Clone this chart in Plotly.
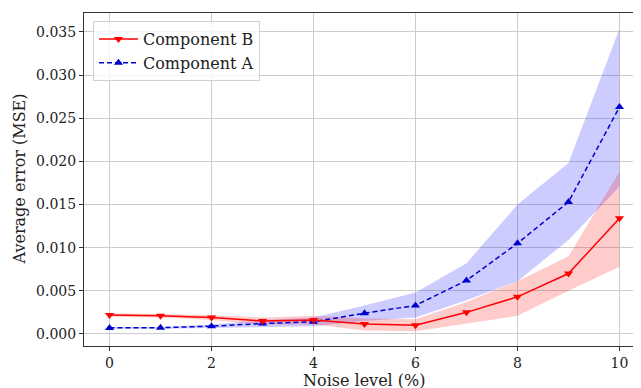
import plotly.graph_objects as go

noise = [0, 1, 2, 3, 4, 5, 6, 7, 8, 9, 10]
comp_b = [0.0022, 0.0021, 0.0019, 0.0015, 0.0016, 0.00116, 0.0010, 0.0025, 0.0043, 0.0070, 0.0134]
comp_b_lo = [0.0020, 0.0019, 0.0016, 0.0011, 0.0011, 0.0004, 0.0003, 0.0012, 0.0021, 0.0050, 0.0078]
comp_b_hi = [0.0024, 0.0023, 0.0022, 0.0019, 0.0021, 0.0018, 0.0017, 0.0037, 0.0061, 0.0090, 0.0188]
comp_a = [0.0007, 0.00072, 0.0009, 0.0012, 0.0014, 0.0024, 0.0033, 0.0062, 0.0105, 0.0153, 0.0263]
comp_a_lo = [0.0006, 0.0006, 0.0007, 0.0008, 0.0009, 0.0015, 0.0019, 0.0039, 0.0061, 0.0109, 0.0171]
comp_a_hi = [0.0008, 0.0008, 0.0011, 0.0016, 0.0019, 0.0033, 0.0048, 0.0082, 0.0150, 0.0198, 0.0354]
yticks = [0.0, 0.005, 0.010, 0.015, 0.020, 0.025, 0.030, 0.035]
xticks = [0, 2, 4, 6, 8, 10]

FONT = "'DejaVu Serif', serif"
fig = go.Figure()

def band(lo, hi, color):
    fig.add_trace(go.Scatter(x=noise, y=hi, mode="lines", line=dict(width=0),
                             showlegend=False, hoverinfo="skip"))
    fig.add_trace(go.Scatter(x=noise, y=lo, mode="lines", line=dict(width=0),
                             fill="tonexty", fillcolor=color, showlegend=False, hoverinfo="skip"))

band(comp_a_lo, comp_a_hi, "rgba(0,0,255,0.2)")
band(comp_b_lo, comp_b_hi, "rgba(255,0,0,0.2)")

fig.add_trace(go.Scatter(x=noise, y=comp_a, mode="lines+markers", name="Component A",
                         line=dict(color="#0000cd", width=1.5, dash="5px,3px"),
                         marker=dict(symbol="triangle-up", size=8, color="#0000cd")))
fig.add_trace(go.Scatter(x=noise, y=comp_b, mode="lines+markers", name="Component B",
                         line=dict(color="#ff0000", width=1.5),
                         marker=dict(symbol="triangle-down", size=8, color="#ff0000")))

fig.update_layout(
    width=641, height=388,
    margin=dict(l=76, r=4, t=5, b=50, autoexpand=False),
    plot_bgcolor="white", paper_bgcolor="white",
    font=dict(family=FONT, size=14, color="#222"),
    legend=dict(x=0.016, y=0.976, xanchor="left", yanchor="top", traceorder="reversed",
                bgcolor="rgba(255,255,255,0.8)", bordercolor="#d0d0d0", borderwidth=1,
                font=dict(family=FONT, size=16, color="#222"), itemwidth=39,
                tracegroupgap=0),
    showlegend=True,
    annotations=[
        dict(text="Noise level (%)", xref="paper", yref="paper", x=0.5, y=0,
             xanchor="center", yanchor="middle", yshift=-34, showarrow=False,
             font=dict(family=FONT, size=16, color="#222")),
        dict(text="Average error (MSE)", xref="paper", yref="paper", x=0, y=0.5,
             xanchor="center", yanchor="middle", xshift=-65, textangle=-90, showarrow=False,
             font=dict(family=FONT, size=16, color="#222")),
    ],
)
fig.update_xaxes(range=[-0.5, 10.5], tickvals=xticks, automargin=False,
                 showgrid=True, gridcolor="#cccccc", gridwidth=1, zeroline=False,
                 showline=True, linecolor="#333", linewidth=1, mirror=True,
                 ticks="outside", ticklen=4, tickcolor="#333",
                 tickfont=dict(family=FONT, size=14))
fig.update_yaxes(range=[-0.0014, 0.0372], tickvals=yticks, tickformat=".3f", automargin=False,
                 showgrid=True, gridcolor="#cccccc", gridwidth=1, zeroline=False,
                 showline=True, linecolor="#333", linewidth=1, mirror=True,
                 ticks="outside", ticklen=4, tickcolor="#333",
                 tickfont=dict(family=FONT, size=14))

fig.write_html("out.html")
